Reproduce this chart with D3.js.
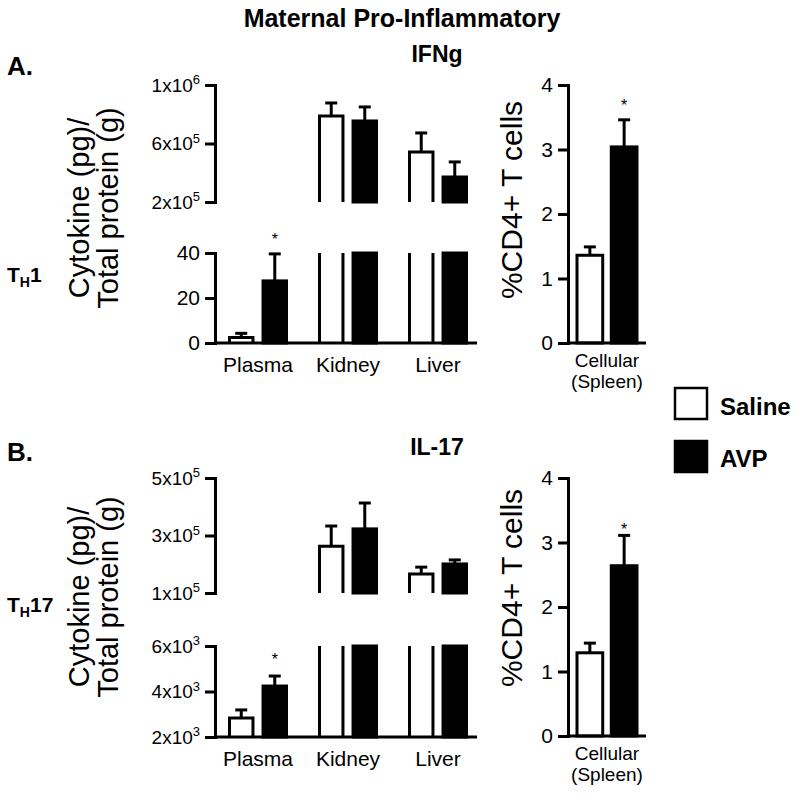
<!DOCTYPE html>
<html><head><meta charset="utf-8">
<script src="https://cdn.jsdelivr.net/npm/d3@7"></script>
<style>
body{margin:0;background:#fff}
svg{display:block}
text{font-family:"Liberation Sans",Arial,Helvetica,sans-serif;fill:#000}
</style>
</head><body>
<svg id="chart" width="800" height="800"></svg>
<script>
// ---------------- data ----------------
const categories = ["Plasma", "Kidney", "Liver"];
const groups = ["Saline", "AVP"];
const cellularLabel = ["Cellular", "(Spleen)"];

// IFNg (TH1)
const ifngSaline    = [2.5, 788000, 542000];
const ifngSalineErr = [1.8, 89000, 130000];
const ifngAVP       = [27.6, 754000, 371000];
const ifngAVPErr    = [12, 96000, 103000];
const ifngStar      = [47, null, null];          // asterisk position (data units)
const ifngCell      = [1.36, 3.04];
const ifngCellErr   = [0.13, 0.42];
const ifngCellStar  = [null, 3.72];
const ifngLowerTicks = [0, 20, 40];
const ifngUpperTicks = [200000, 600000, 1000000];

// IL-17 (TH17)
const il17Saline    = [2830, 263000, 166000];
const il17SalineErr = [360, 70000, 24000];
const il17AVP       = [4240, 323000, 201000];
const il17AVPErr    = [440, 90000, 14000];
const il17Star      = [5520, null, null];
const il17Cell      = [1.29, 2.64];
const il17CellErr   = [0.15, 0.47];
const il17CellStar  = [null, 3.24];
const il17LowerTicks = [2000, 4000, 6000];
const il17UpperTicks = [100000, 300000, 500000];

const cellTicks = [0, 1, 2, 3, 4];

// ---------------- drawing ----------------
const svg = d3.select("#chart");
const SW = 3;

function sciLabel(sel) {
  sel.each(function(d) {
    const t = d3.select(this);
    t.text(null);
    const e = Math.floor(Math.log10(d) + 1e-9);
    const m = Math.round(d / Math.pow(10, e));
    t.append("tspan").text(m + "x10");
    t.append("tspan").attr("dy", "-0.55em").attr("font-size", "13px").text(e);
  });
}

function styleAxis(g, fs) {
  g.attr("font-size", null).attr("font-family", null);
  g.selectAll("path,line").attr("stroke", "#000").attr("stroke-width", SW);
  g.selectAll("text").attr("font-size", fs + "px").attr("fill", "#000");
}

function drawPanel(cfg) {
  const g = svg.append("g");
  const xBand = d3.scaleBand().domain(categories).range([213, 483]).padding(0);
  const xGroup = d3.scaleBand().domain(groups).range([-28.5, 28.5]).paddingInner(0.3);
  const axisX = 215;

  const series = { Saline: [cfg.saline, cfg.salineErr], AVP: [cfg.avp, cfg.avpErr] };

  cfg.segments.forEach((seg, si) => {
    const y = d3.scaleLinear().domain(seg.domain).range(seg.range);
    const [d0, d1] = seg.domain;
    groups.forEach(grp => {
      const [vals, errs] = series[grp];
      categories.forEach((cat, i) => {
        const v = vals[i];
        if (v <= d0) return;
        const c = xBand(cat) + xBand.bandwidth() / 2;
        const x0 = c + xGroup(grp), w = xGroup.bandwidth();
        const clipped = v > d1;
        const yT = y(clipped ? d1 : v), yB = y(d0);
        if (grp === "AVP") {
          g.append("rect").attr("x", x0).attr("y", yT).attr("width", w).attr("height", yB - yT)
            .attr("fill", "#000").attr("stroke", "#000").attr("stroke-width", SW);
        } else {
          g.append("rect").attr("x", x0).attr("y", yT).attr("width", w).attr("height", yB - yT)
            .attr("fill", "#fff");
          let p = `M${x0},${yB}L${x0},${yT}`;
          p += clipped ? `M${x0 + w},${yT}` : `L${x0 + w},${yT}`;
          p += `L${x0 + w},${yB}`;
          g.append("path").attr("d", p).attr("fill", "none").attr("stroke", "#000")
            .attr("stroke-width", SW).attr("stroke-linejoin", "miter");
        }
        if (!clipped) {
          const xm = x0 + w / 2;
          const ye = y(v + errs[i]);
          g.append("line").attr("x1", xm).attr("x2", xm)
            .attr("y1", yT).attr("y2", ye).attr("stroke", "#000").attr("stroke-width", SW);
          g.append("line").attr("x1", xm - 6).attr("x2", xm + 6)
            .attr("y1", ye).attr("y2", ye).attr("stroke", "#000").attr("stroke-width", SW);
          if (grp === "AVP" && cfg.star[i] != null) {
            g.append("text").attr("x", xm).attr("y", y(cfg.star[i]) + 8)
              .attr("text-anchor", "middle").attr("font-size", "16px").text("*");
          }
        }
      });
    });
    const ax = g.append("g").attr("transform", `translate(${axisX},0)`)
      .call(d3.axisLeft(y).tickValues(seg.ticks).tickSize(10).tickSizeOuter(0).tickPadding(5));
    styleAxis(ax, seg.sci ? 19 : 21);
    ax.select(".domain").attr("stroke-linecap", "square");
    if (seg.sci) sciLabel(ax.selectAll(".tick text"));
    if (si === 0) {
      g.append("line").attr("x1", axisX).attr("x2", 477).attr("y1", seg.range[0]).attr("y2", seg.range[0])
        .attr("stroke", "#000").attr("stroke-width", SW);
      categories.forEach(cat => {
        g.append("text").attr("x", xBand(cat) + xBand.bandwidth() / 2).attr("y", seg.range[0] + 29)
          .attr("text-anchor", "middle").attr("font-size", "21px").text(cat);
      });
    }
  });

  const ly = g.append("text").attr("transform", `translate(${89},${cfg.labelY}) rotate(-90)`)
    .attr("text-anchor", "middle").attr("font-size", "29px");
  ly.append("tspan").attr("x", 0).attr("y", 0).text("Cytokine (pg)/");
  ly.append("tspan").attr("x", 0).attr("y", 29).text("Total protein (g)");

  // right (cellular) chart
  const yc = d3.scaleLinear().domain([0, 4]).range(cfg.cellRange);
  const xCell = d3.scaleBand().domain([cellularLabel[0]]).range([568, 646]);
  const xCG = d3.scaleBand().domain(groups).range([-30, 30]).paddingInner(0.25);
  const cc = xCell(cellularLabel[0]) + xCell.bandwidth() / 2;
  groups.forEach((grp, i) => {
    const v = cfg.cell[i], e = cfg.cellErr[i];
    const x0 = cc + xCG(grp), w = xCG.bandwidth();
    g.append("rect").attr("x", x0).attr("y", yc(v)).attr("width", w).attr("height", yc(0) - yc(v))
      .attr("fill", grp === "AVP" ? "#000" : "#fff").attr("stroke", "#000").attr("stroke-width", SW);
    const xm = x0 + w / 2;
    g.append("line").attr("x1", xm).attr("x2", xm).attr("y1", yc(v)).attr("y2", yc(v + e))
      .attr("stroke", "#000").attr("stroke-width", SW);
    g.append("line").attr("x1", xm - 6).attr("x2", xm + 6).attr("y1", yc(v + e)).attr("y2", yc(v + e))
      .attr("stroke", "#000").attr("stroke-width", SW);
    if (cfg.cellStar[i] != null) {
      g.append("text").attr("x", xm).attr("y", yc(cfg.cellStar[i]) + 8)
        .attr("text-anchor", "middle").attr("font-size", "16px").text("*");
    }
  });
  const axc = g.append("g").attr("transform", "translate(568,0)")
    .call(d3.axisLeft(yc).tickValues(cellTicks).tickFormat(d3.format("d"))
      .tickSize(10).tickSizeOuter(0).tickPadding(5));
  styleAxis(axc, 21);
  axc.select(".domain").attr("stroke-linecap", "square");
  g.append("line").attr("x1", 568).attr("x2", 646).attr("y1", yc(0)).attr("y2", yc(0))
    .attr("stroke", "#000").attr("stroke-width", SW);
  cellularLabel.forEach((t, k) => {
    g.append("text").attr("x", cc).attr("y", yc(0) + 24 + k * 21).attr("text-anchor", "middle")
      .attr("font-size", "19px").text(t);
  });
  g.append("text").attr("transform", `translate(522,${cfg.cellLabelY}) rotate(-90)`)
    .attr("text-anchor", "middle").attr("font-size", "30px").text("%CD4+ T cells");

  g.append("text").attr("x", 7).attr("y", cfg.letterY).attr("font-size", "26px").attr("font-weight", "bold").text(cfg.letter);
  g.append("text").attr("x", 437).attr("y", cfg.titleY).attr("text-anchor", "middle")
    .attr("font-size", "23px").attr("font-weight", "bold").text(cfg.title);
  const th = g.append("text").attr("x", 7).attr("y", cfg.thY).attr("font-size", "21px").attr("font-weight", "bold");
  th.append("tspan").text("T");
  th.append("tspan").attr("font-size", "14px").attr("dy", 5).text("H");
  th.append("tspan").attr("dy", -5).text(cfg.thSub);
}

drawPanel({
  saline: ifngSaline, salineErr: ifngSalineErr, avp: ifngAVP, avpErr: ifngAVPErr, star: ifngStar,
  cell: ifngCell, cellErr: ifngCellErr, cellStar: ifngCellStar,
  segments: [
    { domain: [0, 40], range: [343, 253], ticks: ifngLowerTicks, sci: false },
    { domain: [200000, 1000000], range: [202, 85], ticks: ifngUpperTicks, sci: true }
  ],
  cellRange: [343, 85], labelY: 208, cellLabelY: 200,
  letter: "A.", letterY: 75, title: "IFNg", titleY: 62, thY: 282, thSub: "1"
});

drawPanel({
  saline: il17Saline, salineErr: il17SalineErr, avp: il17AVP, avpErr: il17AVPErr, star: il17Star,
  cell: il17Cell, cellErr: il17CellErr, cellStar: il17CellStar,
  segments: [
    { domain: [2000, 6000], range: [737, 646], ticks: il17LowerTicks, sci: true },
    { domain: [100000, 500000], range: [593, 478], ticks: il17UpperTicks, sci: true }
  ],
  cellRange: [736, 478], labelY: 597, cellLabelY: 588,
  letter: "B.", letterY: 461, title: "IL-17", titleY: 455, thY: 612, thSub: "17"
});

svg.append("text").attr("x", 402).attr("y", 27).attr("text-anchor", "middle")
  .attr("font-size", "25px").attr("font-weight", "bold").text("Maternal Pro-Inflammatory");

const legend = svg.append("g");
groups.forEach((grp, i) => {
  legend.append("rect").attr("x", 675).attr("y", 388 + i * 53).attr("width", 32).attr("height", 31)
    .attr("fill", grp === "AVP" ? "#000" : "#fff").attr("stroke", "#000").attr("stroke-width", 2.5);
  legend.append("text").attr("x", 720).attr("y", 415 + i * 52).attr("font-size", "24px")
    .attr("font-weight", "bold").text(grp);
});
</script>
</body></html>
